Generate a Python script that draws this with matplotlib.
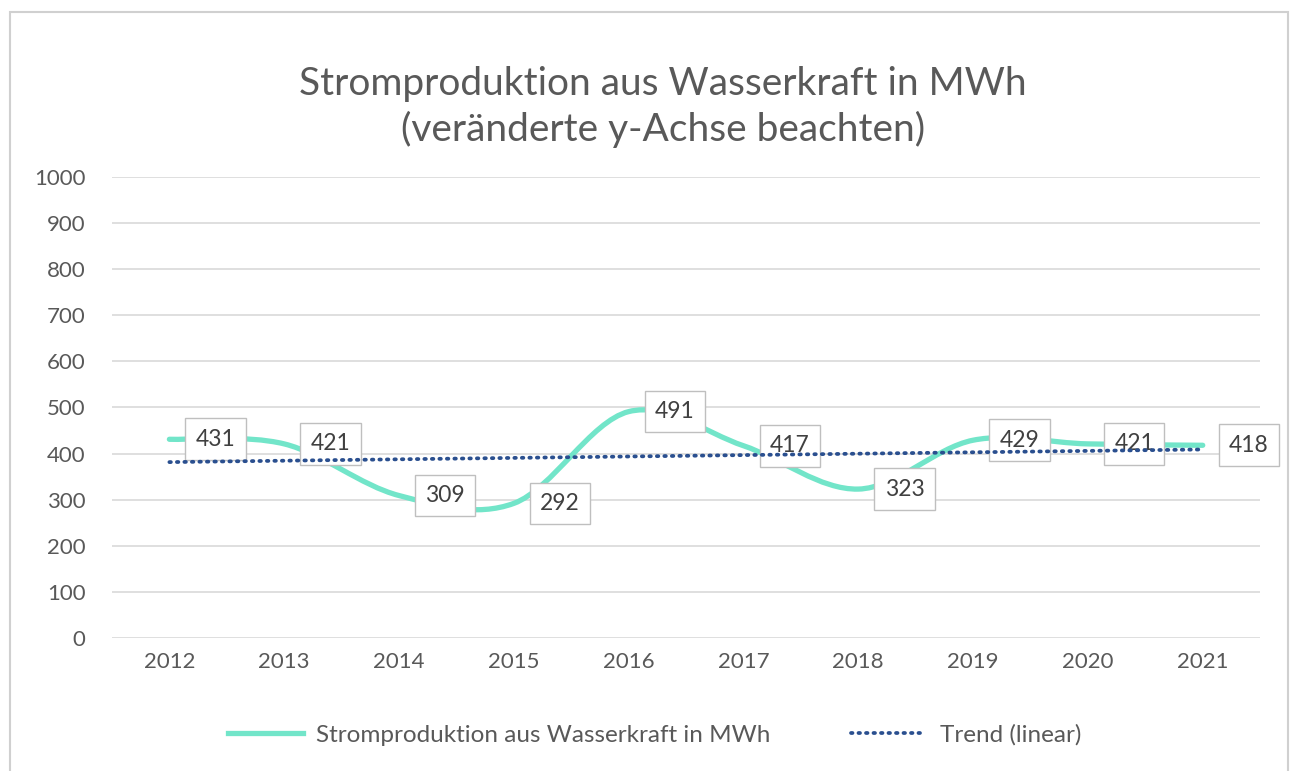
import numpy as np
import matplotlib
matplotlib.use('Agg')
import matplotlib.pyplot as plt
from matplotlib.path import Path
from matplotlib.patches import PathPatch, Rectangle
from matplotlib.lines import Line2D

years = ['2012', '2013', '2014', '2015', '2016', '2017', '2018', '2019', '2020', '2021']
values = [431, 421, 309, 292, 491, 417, 323, 429, 421, 418]
yticks = [0, 100, 200, 300, 400, 500, 600, 700, 800, 900, 1000]

series_name = 'Stromproduktion aus Wasserkraft in MWh'
trend_name = 'Trend (linear)'
title = 'Stromproduktion aus Wasserkraft in MWh\n(veränderte y-Achse beachten)'

plt.rcParams['font.family'] = ['Lato', 'DejaVu Sans']
txt = '#595959'
line_col = '#72e5c9'
trend_col = '#2a4f8f'
dots = (0, (0.4, 1.6))

fig = plt.figure(figsize=(12.93, 7.71), dpi=100)
fig.patches.append(Rectangle((0.008, -0.02), 0.988, 1.004, transform=fig.transFigure,
                             fill=False, edgecolor='#d0d0d0', lw=1.5))
ax = fig.add_axes([0.0866, 0.1725, 0.888, 0.598])

x = np.arange(len(values))
y = np.array(values, dtype=float)

# smoothed line like Excel (bezier through the points)
verts = [(x[0], y[0])]
codes = [Path.MOVETO]
for i in range(len(x) - 1):
    p0 = np.array([x[max(i - 1, 0)], y[max(i - 1, 0)]])
    p1 = np.array([x[i], y[i]])
    p2 = np.array([x[i + 1], y[i + 1]])
    p3 = np.array([x[min(i + 2, len(x) - 1)], y[min(i + 2, len(x) - 1)]])
    c1 = p1 + (p2 - p0) / 6
    c2 = p2 - (p3 - p1) / 6
    verts += [tuple(c1), tuple(c2), tuple(p2)]
    codes += [Path.CURVE4] * 3
ax.add_patch(PathPatch(Path(verts, codes), fill=False, edgecolor=line_col, lw=3.8,
                       capstyle='round', joinstyle='round', zorder=2))

# linear trend
k, d = np.polyfit(x, y, 1)
ax.plot(x, k * x + d, color=trend_col, lw=2.7, ls=dots, dash_capstyle='round', zorder=5)

for xi, v in zip(x, values):
    ax.annotate(str(v), (xi, v), xytext=(19, 0), textcoords='offset points',
                ha='left', va='center', fontsize=16.5, color='#404040', zorder=4,
                bbox=dict(boxstyle='square,pad=0.45', fc='white', ec='#bfbfbf', lw=1))

ax.set_xlim(-0.5, len(x) - 0.5)
ax.set_ylim(0, 1000)
ax.set_yticks(yticks)
ax.set_xticks(x)
ax.set_xticklabels(years)
ax.grid(axis='y', color='#d9d9d9', lw=1.2)
ax.set_axisbelow(True)
for s in ax.spines.values():
    s.set_visible(False)
ax.tick_params(length=0, labelsize=16, colors=txt, pad=10)
ax.tick_params(axis='y', pad=19)

fig.text(0.513, 0.861, title, ha='center', va='center', fontsize=28, color=txt,
         linespacing=1.3)

handles = [Line2D([], [], color=line_col, lw=3.8),
           Line2D([], [], color=trend_col, lw=2.7, ls=dots, dash_capstyle='round')]
fig.legend(handles, [series_name, trend_name], loc='center', ncol=2,
           bbox_to_anchor=(0.506, 0.047), frameon=False, fontsize=17.5,
           labelcolor=txt, handlelength=3.1, columnspacing=3.3, handletextpad=0.55)

fig.savefig('out.png', dpi=100)
